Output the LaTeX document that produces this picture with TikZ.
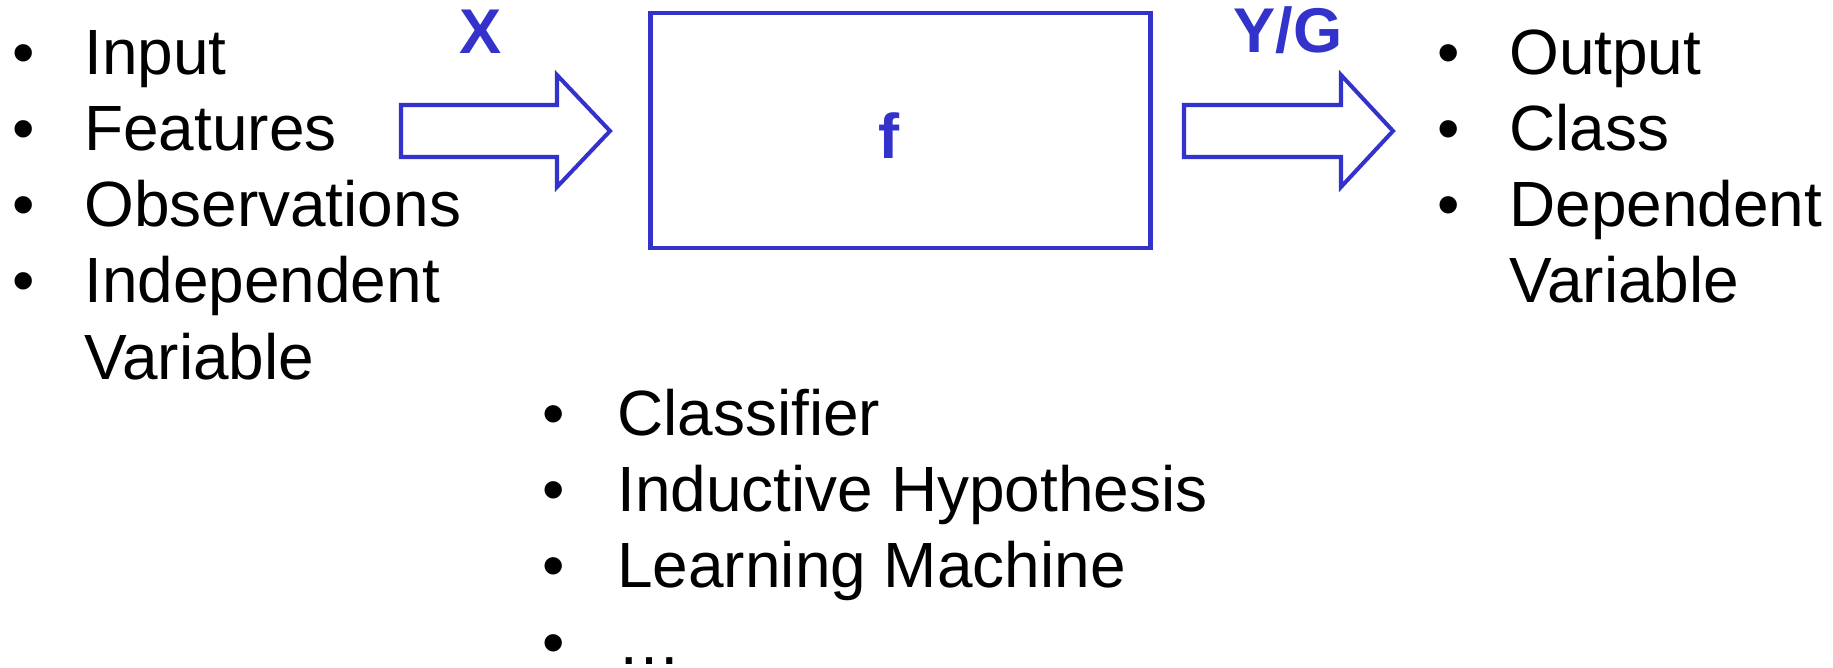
\documentclass[tikz,border=0pt]{standalone}
\usepackage{fontspec}
\setmainfont{Liberation Sans}
\usetikzlibrary{positioning}

\definecolor{fblue}{RGB}{51,51,204}
\newcommand{\bull}[1][1.44cm]{\makebox[#1][l]{\textbullet}}

\begin{document}
\begin{tikzpicture}[x=0.02cm,y=-0.02cm,
  item/.style={anchor=base west,inner sep=0pt,font=\fontsize{36.4pt}{43pt}\selectfont},
  lbl/.style={anchor=base,inner sep=0pt,text=fblue,font=\fontsize{36pt}{43pt}\selectfont\bfseries},
  blockarrow/.style={draw=fblue,line width=2.3pt,line join=miter}]

\useasboundingbox (0,0) rectangle (1833,668);

% === Input list ===
\foreach \name/\txt [count=\i from 0] in {in/Input,feat/Features,obs/Observations,indep/Independent}
  \node[item] (\name) at (12,{75+76*\i}) {\bull\txt};
\node[item] (indepb) at (84,380) {Variable};

% === Learner box ===
\node[draw=fblue,line width=2.5pt,minimum width=10cm,minimum height=4.7cm,inner sep=0pt] (box) at (900.5,130.5) {};
\node[lbl] (flbl) at (889,159) {f};

% === Block arrows ===
\draw[blockarrow] (401,105) -- (557,105) -- (557,75) -- (610,131) -- (557,187) -- (557,157) -- (401,157) -- cycle;
\node[lbl] (xlbl) at (481,54) {X};

\draw[blockarrow] (1184,105) -- (1341,105) -- (1341,75) -- (1393,131) -- (1341,187) -- (1341,157) -- (1184,157) -- cycle;
\node[lbl] (ylbl) at (1288,53) {Y/G};

% === Output list ===
\foreach \name/\txt [count=\i from 0] in {out/Output,cls/Class,dep/Dependent}
  \node[item] (\name) at (1437,{75+76*\i}) {\bull\txt};
\node[item] (depb) at (1509,303) {Variable};

% === Names for f ===
\foreach \name/\txt [count=\i from 0] in {clf/Classifier,ind/Inductive Hypothesis,lm/Learning Machine,etc/…}
  \node[item] (\name) at (542,{436+76*\i}) {\bull[1.5cm]\txt};

\end{tikzpicture}
\end{document}
